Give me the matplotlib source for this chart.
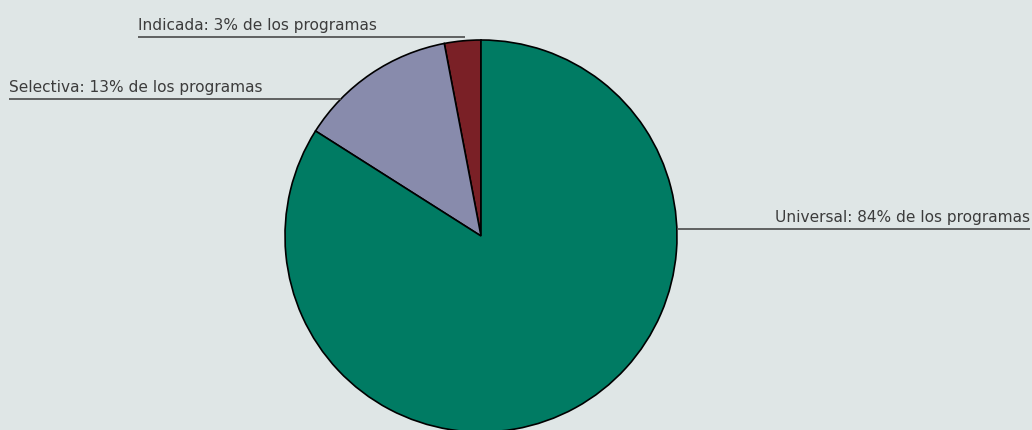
import numpy as np
import matplotlib
matplotlib.use("Agg")
import matplotlib.pyplot as plt

# Program distribution by prevention level
categories = ["Indicada", "Selectiva", "Universal"]
shares = [3, 13, 84]
colors = ["#7a2026", "#888bac", "#007b63"]
suffix = "% de los programas"

BG = "#dfe6e6"
W, H = 1032, 430

fig = plt.figure(figsize=(W / 100, H / 100), dpi=100, facecolor=BG)
ax = fig.add_axes([0, 0, 1, 1])
ax.set_facecolor(BG)

cx, cy, r = 481, 194, 196
wedges, _ = ax.pie(shares, colors=colors, startangle=90, counterclock=True,
                   center=(cx, cy), radius=r, frame=True,
                   wedgeprops=dict(edgecolor="black", linewidth=1.2))
ax.set_xlim(0, W)
ax.set_ylim(0, H)
ax.set_aspect("equal")
ax.axis("off")

font = dict(family=["DejaVu Sans"], size=11.1, color="#3c3c3c")
line_kw = dict(color="#4a4a4a", linewidth=1.2, solid_capstyle="butt")

def edge_x(y, side):
    dy = y - cy
    return cx + side * np.sqrt(max(r * r - dy * dy, 0.0))

# leader line heights and text anchors (pixel layout)
layout = {
    "Indicada": dict(y=H - 37, x0=138, side=-1),
    "Selectiva": dict(y=H - 99, x0=9, side=-1),
    "Universal": dict(y=H - 229, x0=1030, side=1),
}

for w, cat, val in zip(wedges, categories, shares):
    lay = layout[cat]
    y = lay["y"]
    if abs(y - cy) >= r:
        mid = np.deg2rad((w.theta1 + w.theta2) / 2)
        xe = cx + r * np.cos(mid) + 2
    else:
        xe = edge_x(y, lay["side"])
    label = f"{cat}: {val}{suffix}"
    if lay["side"] < 0:
        ax.plot([lay["x0"], xe], [y, y], **line_kw)
        ax.text(lay["x0"], y + 7, label, ha="left", va="baseline", **font)
    else:
        ax.plot([xe, lay["x0"]], [y, y], **line_kw)
        ax.text(lay["x0"], y + 7, label, ha="right", va="baseline", **font)

fig.savefig("out.png", dpi=100, facecolor=BG)
